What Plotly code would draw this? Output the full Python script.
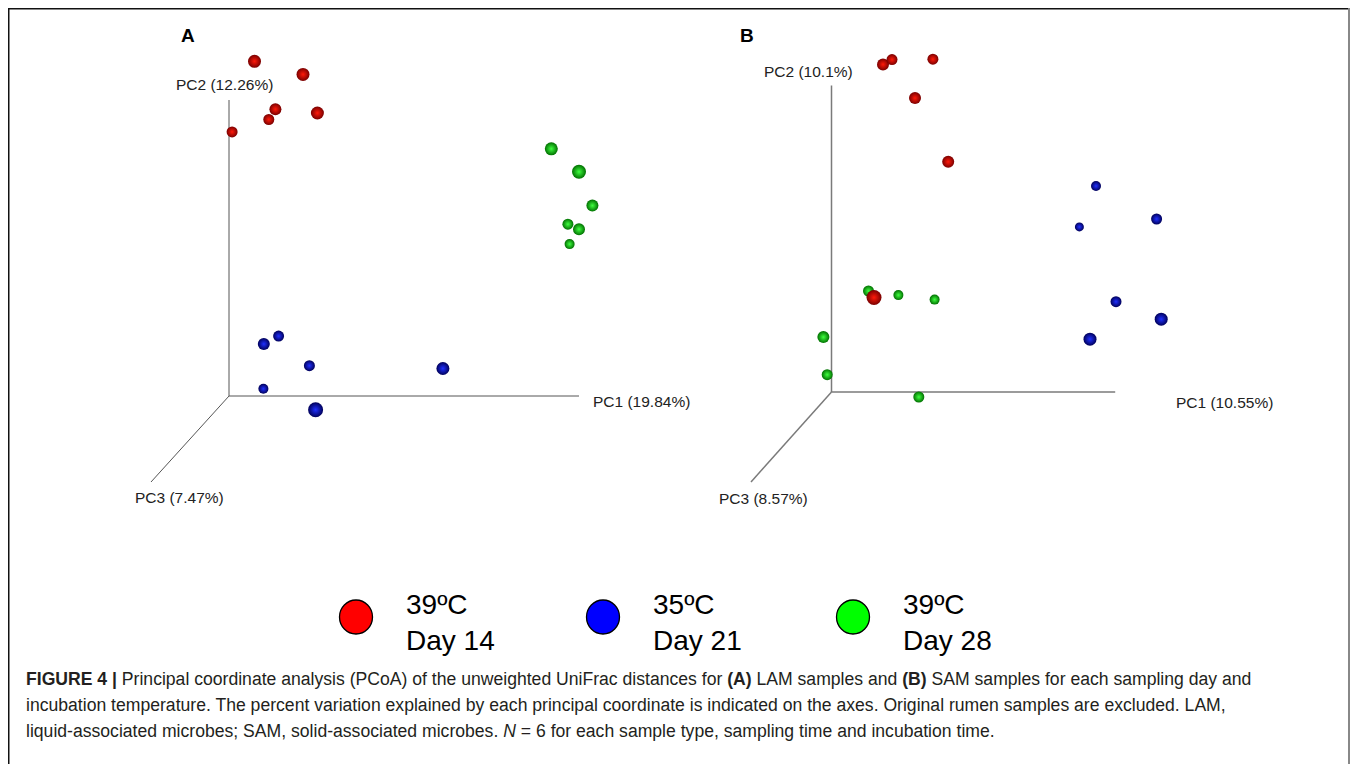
import plotly.graph_objects as go

# ---------------- data (projected PCoA coordinates, panel units) ----------------
groups = ["39ºC Day 14", "35ºC Day 21", "39ºC Day 28"]
group_colors = {"39ºC Day 14": ("#7a0000", "#ff1a0a"),
                "35ºC Day 21": ("#00005a", "#2030ff"),
                "39ºC Day 28": ("#007000", "#40ff40")}

# Panel A (LAM)
A_red_x = [0.255, 0.740, 0.464, 0.884, 0.398, 0.031]
A_red_y = [3.347, 3.216, 2.868, 2.830, 2.765, 2.641]
A_red_s = [13, 13, 12, 13, 11, 11]
A_blue_x = [0.496, 0.348, 0.804, 2.139, 0.344, 0.866]
A_blue_y = [0.599, 0.520, 0.303, 0.275, 0.072, -0.138]
A_blue_s = [11, 12, 11, 13, 10, 15]
A_green_x = [3.223, 3.500, 3.634, 3.389, 3.500, 3.406]
A_green_y = [2.472, 2.242, 1.904, 1.718, 1.667, 1.519]
A_green_s = [13, 14, 12, 11, 12, 10]

# Panel B (SAM)
B_red_x = [0.515, 0.605, 1.014, 0.835, 1.167, 0.425]
B_red_y = [3.276, 3.324, 3.328, 2.939, 2.302, 0.945]
B_red_s = [12, 11, 11, 12, 12, 15]
B_blue_x = [2.645, 3.251, 2.479, 2.845, 3.297, 2.585]
B_blue_y = [2.060, 1.730, 1.651, 0.903, 0.728, 0.528]
B_blue_s = [10, 11, 9, 11, 13, 13]
B_green_x = [0.370, 0.669, 1.031, -0.081, -0.043, 0.873]
B_green_y = [1.010, 0.969, 0.924, 0.549, 0.173, -0.050]
B_green_s = [11, 10, 10, 12, 11, 11]

# axis labels (percent variation explained)
A_axis_labels = ["PC1 (19.84%)", "PC2 (12.26%)", "PC3 (7.47%)"]
B_axis_labels = ["PC1 (10.55%)", "PC2 (10.1%)", "PC3 (8.57%)"]
# projected axis end points: PC1 end, PC2 end, PC3 end
A_axis_ends = [(3.50, 0.0), (0.0, 2.96), (-0.78, -0.86)]
B_axis_ends = [(2.837, 0.0), (0.0, 3.066), (-0.805, -0.90)]

PAGE_MARGIN = 8  # browser body margin
W, H = 1358 - 2 * PAGE_MARGIN, 772 - 2 * PAGE_MARGIN
FONT = "Liberation Sans, Arial, sans-serif"

fig = go.Figure()


def add_points(xs, ys, ss, grp, xa, ya):
    edge, center = group_colors[grp]
    fig.add_trace(go.Scatter(
        x=xs, y=ys, mode="markers", xaxis=xa, yaxis=ya, showlegend=False,
        name=grp, hoverinfo="skip",
        marker=dict(size=ss, color=edge, opacity=1,
                    gradient=dict(type="radial", color=center),
                    line=dict(width=0))))


panels = [
    ("x", "y", A_green_x, A_green_y, A_green_s, A_blue_x, A_blue_y, A_blue_s,
     A_red_x, A_red_y, A_red_s),
    ("x2", "y2", B_green_x, B_green_y, B_green_s, B_blue_x, B_blue_y, B_blue_s,
     B_red_x, B_red_y, B_red_s),
]
for xa, ya, gx, gy, gs, bx, by, bs, rx, ry, rs in panels:
    add_points(gx, gy, gs, "39ºC Day 28", xa, ya)
    add_points(bx, by, bs, "35ºC Day 21", xa, ya)
    add_points(rx, ry, rs, "39ºC Day 14", xa, ya)


def px2paper_x(px):
    return (px - PAGE_MARGIN) / W


def px2paper_y(py):
    return 1 - (py - PAGE_MARGIN) / H


# Panel axes: 1 unit = 100 px; origin A at (229,396) px, B at (831.5,392) px
def axis_cfg(px0, px1, origin_px):
    return dict(domain=[px2paper_x(px0), px2paper_x(px1)],
                range=[(px0 - origin_px) / 100, (px1 - origin_px) / 100],
                visible=False, fixedrange=True)


def yaxis_cfg(py_top, py_bot, origin_py):
    return dict(domain=[px2paper_y(py_bot), px2paper_y(py_top)],
                range=[(origin_py - py_bot) / 100, (origin_py - py_top) / 100],
                visible=False, fixedrange=True)


shapes = []
annotations = []


def draw_axes(xref, yref, ends, labels, color, width, label_pos):
    for (ex, ey) in ends:
        shapes.append(dict(type="line", xref=xref, yref=yref, x0=0, y0=0, x1=ex, y1=ey,
                           line=dict(color=color, width=width), layer="below"))
    for lab, (lx, ly, anchor) in zip(labels, label_pos):
        annotations.append(dict(text=lab, x=lx, y=ly, xref=xref, yref=yref,
                                xanchor=anchor, yanchor="middle", showarrow=False,
                                font=dict(family=FONT, size=15.5, color="#222")))


draw_axes("x", "y", A_axis_ends, A_axis_labels, "#555", 1,
          [(3.616, -0.06, "left"), (-0.05, 3.11, "center"), (-0.50, -1.02, "center")])
draw_axes("x2", "y2", B_axis_ends, B_axis_labels, "#7a7a7a", 1.5,
          [(3.429, -0.11, "left"), (-0.231, 3.207, "center"), (-0.678, -1.063, "center")])

# panel letters
for letter, px, py in [("A", 187.5, 36), ("B", 746.7, 35.5)]:
    annotations.append(dict(text="<b>%s</b>" % letter, x=px2paper_x(px), y=px2paper_y(py),
                            xref="paper", yref="paper", xanchor="center", yanchor="middle",
                            showarrow=False, font=dict(family=FONT, size=19, color="#000")))

# legend (circles + text)
legend_items = [("39ºC", "Day 14", "#ff0000", 356), ("35ºC", "Day 21", "#0000ff", 603),
                ("39ºC", "Day 28", "#00ff00", 853)]
for t1, t2, col, cx in legend_items:
    shapes.append(dict(type="circle", xref="paper", yref="paper",
                       x0=px2paper_x(cx - 16.5), x1=px2paper_x(cx + 16.5),
                       y0=px2paper_y(617 + 17), y1=px2paper_y(617 - 17),
                       fillcolor=col, line=dict(color="#000", width=1.3)))
    annotations.append(dict(text="%s<br>%s" % (t1, t2), x=px2paper_x(cx + 48), y=px2paper_y(622),
                            xref="paper", yref="paper", xanchor="left", yanchor="middle",
                            align="left", showarrow=False,
                            font=dict(family=FONT, size=28, color="#000")))

# caption
caption_lines = [
    "<b>FIGURE 4 |</b> Principal coordinate analysis (PCoA) of the unweighted UniFrac distances for "
    "<b>(A)</b> LAM samples and <b>(B)</b> SAM samples for each sampling day and",
    "incubation temperature. The percent variation explained by each principal coordinate is "
    "indicated on the axes. Original rumen samples are excluded. LAM,",
    "liquid-associated microbes; SAM, solid-associated microbes. <i>N</i> = 6 for each sample type, "
    "sampling time and incubation time.",
]
for i, line in enumerate(caption_lines):
    annotations.append(dict(text=line, x=px2paper_x(24), y=px2paper_y(679 + 26 * i),
                            xref="paper", yref="paper", xanchor="left", yanchor="middle",
                            showarrow=False, font=dict(family=FONT, size=17.6, color="#231f20")))

# outer frame
shapes.append(dict(type="line", xref="paper", yref="paper", x0=px2paper_x(8.75), x1=px2paper_x(8.75),
                   y0=px2paper_y(8.75), y1=0, line=dict(color="#111", width=1.5)))
shapes.append(dict(type="line", xref="paper", yref="paper", x0=px2paper_x(8), x1=px2paper_x(1349),
                   y0=px2paper_y(8.75), y1=px2paper_y(8.75), line=dict(color="#111", width=1.5)))
shapes.append(dict(type="line", xref="paper", yref="paper", x0=px2paper_x(1349), x1=px2paper_x(1349),
                   y0=px2paper_y(8), y1=0, line=dict(color="#888", width=2)))

fig.update_layout(
    width=W, height=H, autosize=False,
    margin=dict(l=0, r=0, t=0, b=0),
    paper_bgcolor="white", plot_bgcolor="rgba(0,0,0,0)",
    xaxis=axis_cfg(20, 700, 229), yaxis=yaxis_cfg(20, 540, 396),
    xaxis2=axis_cfg(700, 1340, 831.5), yaxis2=yaxis_cfg(20, 540, 392),
    shapes=shapes, annotations=annotations, showlegend=False,
)

fig.write_html("out.html", config={"displayModeBar": False})
